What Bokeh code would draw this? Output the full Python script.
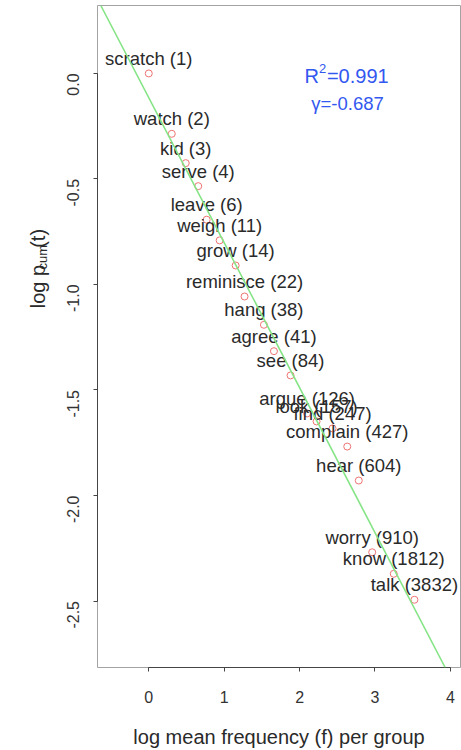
import math
from bokeh.plotting import figure
from bokeh.layouts import row
from bokeh.models import Slope, Label, FixedTicker, ColumnDataSource
from bokeh.core.properties import value
from bokeh.embed import file_html
from bokeh.resources import INLINE

# ---- data ----
words = ["scratch", "watch", "kid", "serve", "leave", "weigh", "grow", "reminisce",
         "hang", "agree", "see", "argue", "look", "find", "complain", "hear",
         "worry", "know", "talk"]
counts = [1, 2, 3, 4, 6, 11, 14, 22, 38, 41, 84, 126, 157, 247, 427, 604, 910, 1812, 3832]
log_freq = [0.00, 0.305, 0.49, 0.656, 0.768, 0.94, 1.152, 1.27, 1.527, 1.66, 1.88,
            2.10, 2.225, 2.437, 2.632, 2.785, 2.963, 3.249, 3.523]
log_pcum = [0.0, -0.286, -0.425, -0.534, -0.693, -0.791, -0.910, -1.057, -1.191, -1.316,
            -1.431, -1.611, -1.649, -1.682, -1.768, -1.929, -2.269, -2.371, -2.494]

x_ticks = [0, 1, 2, 3, 4]
x_tick_labels = ["0", "1", "2", "3", "4"]
y_ticks = [0.0, -0.5, -1.0, -1.5, -2.0, -2.5]
y_tick_labels = ["0.0", "-0.5", "-1.0", "-1.5", "-2.0", "-2.5"]

fit_gamma = -0.687
fit_intercept = -0.115
fit_r2 = 0.991

FONT = "Liberation Sans"
TXT = "#2a2a2a"
BLUE = "#3358f0"

labels = [f"{w} ({c})" for w, c in zip(words, counts)]
src = ColumnDataSource(dict(x=log_freq, y=log_pcum, label=labels))

# ---------------- main plot ----------------
p = figure(width=411, height=750,
           x_range=(-0.680, 4.134), y_range=(-2.815, 0.322),
           output_backend="svg", toolbar_location=None,
           min_border_left=47, min_border_right=1, min_border_top=5, min_border_bottom=83)

p.grid.visible = False
p.outline_line_color = "#a3a3a3"
p.outline_line_width = 1
p.background_fill_color = "white"
p.border_fill_color = "white"

# fitted line
p.add_layout(Slope(gradient=fit_gamma, y_intercept=fit_intercept,
                   line_color="#85e485", line_width=1.6))

# points
p.scatter(x="x", y="y", source=src, marker="circle", size=7,
          fill_color=None, line_color="#ee7373", line_width=1)

# point labels
p.text(x="x", y="y", text="label", source=src, text_align="center",
       text_baseline="middle", y_offset=-15,
       text_font=value(FONT), text_font_size="18.5px", text_color=TXT)

# x axis
xa = p.xaxis[0]
xa.ticker = FixedTicker(ticks=x_ticks)
xa.major_label_overrides = {float(t): l for t, l in zip(x_ticks, x_tick_labels)}
xa.bounds = (x_ticks[0], x_ticks[-1])
xa.minor_tick_line_color = None
xa.major_tick_in = 0
xa.major_tick_out = 4
xa.axis_line_color = "#444444"
xa.major_tick_line_color = "#444444"
xa.major_label_text_font = FONT
xa.major_label_text_font_size = "16px"
xa.major_label_text_color = "#333333"
xa.major_label_standoff = 19
xa.axis_label = "log mean frequency (f) per group"
xa.axis_label_text_font = FONT
xa.axis_label_text_font_size = "20px"
xa.axis_label_text_font_style = "normal"
xa.axis_label_text_color = TXT
xa.axis_label_standoff = 20

# y axis
ya = p.yaxis[0]
ya.ticker = FixedTicker(ticks=y_ticks)
ya.major_label_overrides = {float(t): l for t, l in zip(y_ticks, y_tick_labels)}
ya.bounds = (y_ticks[-1], y_ticks[0])
ya.minor_tick_line_color = None
ya.major_tick_in = 0
ya.major_tick_out = 4
ya.axis_line_color = "#444444"
ya.major_tick_line_color = "#444444"
ya.major_label_orientation = math.pi / 2
ya.major_label_text_font = FONT
ya.major_label_text_font_size = "16px"
ya.major_label_text_color = "#333333"
ya.major_label_standoff = 20

# fit statistics (R^2 with raised 2, gamma)
r_x, r_y = 207, 592
p.add_layout(Label(x=r_x, y=r_y, x_units="screen", y_units="screen", text="R",
                   text_align="left", text_baseline="middle",
                   text_font=FONT, text_font_size="20px", text_color=BLUE))
p.add_layout(Label(x=r_x + 14.6, y=r_y + 7, x_units="screen", y_units="screen", text="2",
                   text_align="left", text_baseline="middle",
                   text_font=FONT, text_font_size="13px", text_color=BLUE))
p.add_layout(Label(x=r_x + 22.4, y=r_y, x_units="screen", y_units="screen",
                   text=f"={fit_r2:.3f}", text_align="left", text_baseline="middle",
                   text_font=FONT, text_font_size="20px", text_color=BLUE))
p.add_layout(Label(x=250, y=564, x_units="screen", y_units="screen",
                   text=f"\u03b3={fit_gamma:.3f}", text_align="center", text_baseline="middle",
                   text_font=FONT, text_font_size="18.5px", text_color=BLUE))

# ---------------- y axis title strip: log p_cum(t) ----------------
yl = figure(width=50, height=750, x_range=(0, 50), y_range=(750, 0),
            output_backend="svg", toolbar_location=None, min_border=0,
            x_axis_location=None, y_axis_location=None)
yl.grid.visible = False
yl.outline_line_color = None
yl.background_fill_color = "white"
yl.border_fill_color = "white"

t_x, t_y = 37, 343
yl.add_layout(Label(x=t_x, y=t_y, text="log p", angle=math.pi / 2,
                    text_align="left", text_baseline="middle",
                    text_font=FONT, text_font_size="20px", text_color=TXT))
yl.add_layout(Label(x=t_x + 5, y=t_y - 44, text="cum", angle=math.pi / 2,
                    text_align="left", text_baseline="middle",
                    text_font=FONT, text_font_size="13px", text_color=TXT))
yl.add_layout(Label(x=t_x, y=t_y - 68.5, text="(t)", angle=math.pi / 2,
                    text_align="left", text_baseline="middle",
                    text_font=FONT, text_font_size="20px", text_color=TXT))

layout = row(yl, p)
open("out.html", "w").write(file_html(layout, INLINE))
